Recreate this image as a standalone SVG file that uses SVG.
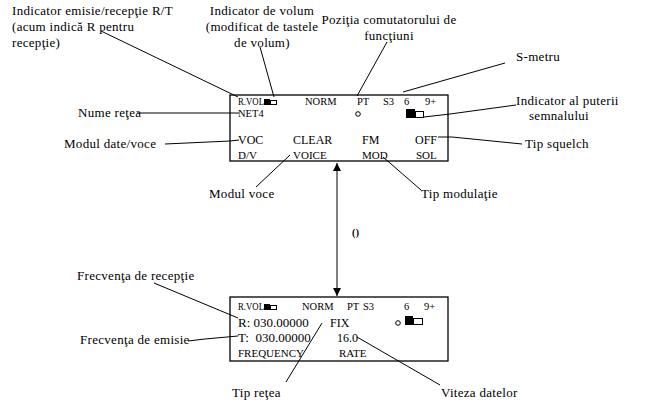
<svg xmlns="http://www.w3.org/2000/svg" width="645" height="409" viewBox="0 0 645 409" font-family="'Liberation Serif', 'DejaVu Serif', serif">
<defs>
<style>
text{font-family:'Liberation Serif','DejaVu Serif',serif;fill:#000}
.lbl{font-size:13px;letter-spacing:0.3px}
.c{text-anchor:middle}
.s10{font-size:10.5px}
.s11{font-size:11px}
.s12{font-size:12px}
.s13{font-size:13px}
.ln{stroke:#000;stroke-width:1;fill:none}
.box{stroke:#000;stroke-width:1.3;fill:#fff}
.hol{stroke:#000;stroke-width:1;fill:#fff}
</style>
<marker id="ah" viewBox="0 0 8 10" refX="8" refY="5" markerWidth="8" markerHeight="10" markerUnits="userSpaceOnUse" orient="auto-start-reverse">
<path d="M0,1 L8,5 L0,9 Z" fill="#000"/>
</marker>
</defs>
<rect width="645" height="409" fill="#fff"/>

<g id="display-top">
<rect class="box" x="230" y="95" width="218" height="66"/>
<text class="s10" x="238" y="105" textLength="26" lengthAdjust="spacingAndGlyphs">R.VOL</text>
<rect x="264" y="99" width="6" height="6" fill="#000"/>
<rect class="hol" x="270.5" y="100.5" width="6" height="4"/>
<text class="s10" x="305" y="105">NORM</text>
<text class="s10" x="357" y="105">PT</text>
<text class="s10" x="383" y="105">S3</text>
<text class="s10" x="404" y="105">6</text>
<text class="s10" x="425" y="105">9+</text>
<text class="s10" x="238" y="117">NET4</text>
<circle class="hol" cx="358" cy="114" r="2.3" stroke-width="1.3"/>
<rect x="406" y="109" width="9" height="9" fill="#000"/>
<rect class="hol" x="415.5" y="111.5" width="8" height="6"/>
<text class="s12" x="238" y="144">VOC</text>
<text class="s12" x="293" y="144">CLEAR</text>
<text class="s12" x="362" y="144">FM</text>
<text class="s12" x="415" y="144">OFF</text>
<text class="s11" x="238" y="159">D/V</text>
<text class="s11" x="293" y="159">VOICE</text>
<text class="s11" x="362" y="159">MOD</text>
<text class="s11" x="416" y="159">SOL</text>
</g>

<g id="display-bottom">
<rect class="box" x="230" y="297" width="218" height="64"/>
<text class="s10" x="238" y="310" textLength="26" lengthAdjust="spacingAndGlyphs">R.VOL</text>
<rect x="264" y="304" width="6" height="6" fill="#000"/>
<rect class="hol" x="270.5" y="305.5" width="6" height="4"/>
<text class="s10" x="302" y="310">NORM</text>
<text class="s10" x="347" y="310">PT</text>
<text class="s10" x="363" y="310">S3</text>
<text class="s10" x="404" y="310">6</text>
<text class="s10" x="424" y="310">9+</text>
<text class="s13" x="238" y="327">R: 030.00000</text>
<text class="s12" x="330" y="327">FIX</text>
<circle class="hol" cx="398" cy="323" r="2.3" stroke-width="1.3"/>
<rect x="405" y="316" width="8" height="9" fill="#000"/>
<rect class="hol" x="413.5" y="318.5" width="9" height="6"/>
<text class="s13" x="238" y="342" xml:space="preserve">T:  030.00000</text>
<text class="s12" x="337" y="342">16.0</text>
<text class="s11" x="238" y="357">FREQUENCY</text>
<text class="s11" x="339" y="357">RATE</text>
</g>

<g id="label-rt">
<text class="lbl" x="12" y="15">Indicator emisie/recepţie R/T</text>
<text class="lbl" x="12" y="31">(acum indică R pentru</text>
<text class="lbl" x="12" y="47">recepţie)</text>
</g>
<g id="label-volum">
<text class="lbl c" x="262" y="15">Indicator de volum</text>
<text class="lbl c" x="262" y="31">(modificat de tastele</text>
<text class="lbl c" x="262" y="47">de volum)</text>
</g>
<g id="label-pozitia">
<text class="lbl c" x="389" y="24">Poziţia comutatorului de</text>
<text class="lbl c" x="389" y="40">funcţiuni</text>
</g>
<g id="label-smetru"><text class="lbl" x="516" y="61">S-metru</text></g>
<g id="label-putere">
<text class="lbl" x="516" y="105">Indicator al puterii</text>
<text class="lbl c" x="559" y="120">semnalului</text>
</g>
<g id="label-squelch"><text class="lbl" x="525" y="148">Tip squelch</text></g>
<g id="label-nume"><text class="lbl" x="78" y="117">Nume reţea</text></g>
<g id="label-modul-dv"><text class="lbl" x="64" y="148">Modul date/voce</text></g>
<g id="label-modul-voce"><text class="lbl" x="209" y="198">Modul voce</text></g>
<g id="label-modulatie"><text class="lbl" x="421" y="198">Tip modulaţie</text></g>
<g id="label-rotate"><text x="352" y="236" font-size="10" font-weight="bold" letter-spacing="0.5">()</text></g>
<g id="label-frec-rec"><text class="lbl" x="77" y="280">Frecvenţa de recepţie</text></g>
<g id="label-frec-em"><text class="lbl" x="80" y="344">Frecvenţa de emisie</text></g>
<g id="label-tip-retea"><text class="lbl" x="232" y="397">Tip reţea</text></g>
<g id="label-viteza"><text class="lbl" x="441" y="397">Viteza datelor</text></g>

<g id="connectors">
<line class="ln" x1="101" y1="31" x2="238" y2="97"/>
<line class="ln" x1="260" y1="47" x2="274" y2="97"/>
<line class="ln" x1="387" y1="42" x2="357" y2="96"/>
<line class="ln" x1="505" y1="63" x2="403" y2="92"/>
<polyline class="ln" points="424,117 450,114 516,105"/>
<polyline class="ln" points="438,137 452,137 522,144"/>
<line class="ln" x1="137" y1="113" x2="239" y2="113"/>
<polyline class="ln" points="165,144 230,141 239,140"/>
<line class="ln" x1="256" y1="187" x2="290" y2="155"/>
<line class="ln" x1="421" y1="190" x2="383" y2="157"/>
<line class="ln" x1="337" y1="163" x2="337" y2="296" marker-start="url(#ah)" marker-end="url(#ah)"/>
<line class="ln" x1="154" y1="283" x2="238" y2="318"/>
<polyline class="ln" points="188,341 205,339 238,336"/>
<line class="ln" x1="286" y1="382" x2="322" y2="323"/>
<line class="ln" x1="357" y1="337" x2="440" y2="385"/>
</g>
</svg>
